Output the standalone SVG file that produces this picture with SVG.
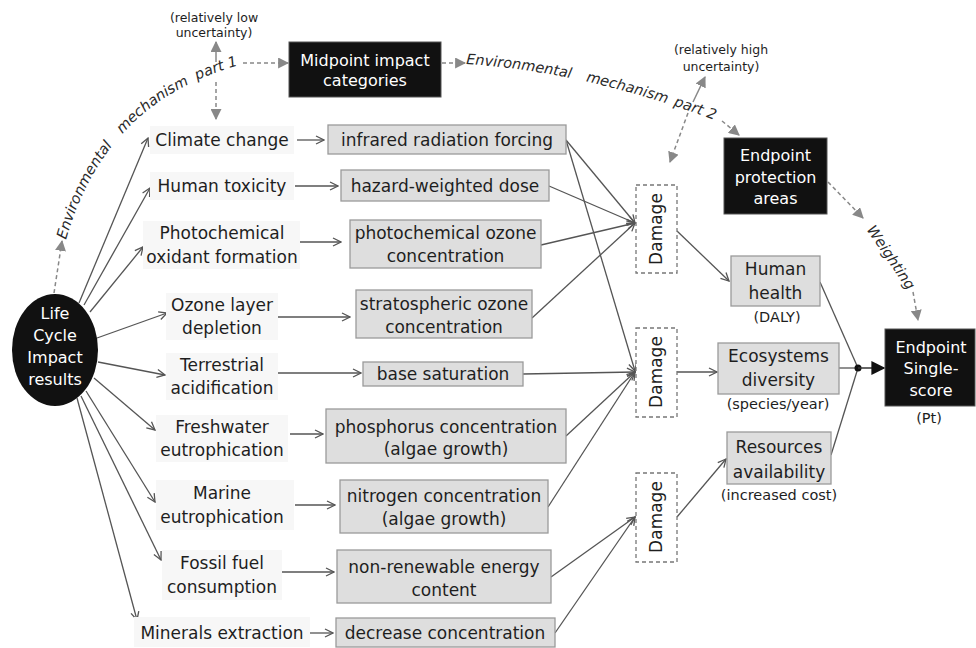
<svg xmlns="http://www.w3.org/2000/svg" width="976" height="648" viewBox="0 0 976 648">
<defs>
<style>
text{font-family:"DejaVu Sans","Liberation Sans",sans-serif;fill:#1e1e1e;}
.t17{font-size:17px;text-anchor:middle;}
.t16w{font-size:16px;text-anchor:middle;fill:#fff;}
.sm{font-size:14.5px;text-anchor:middle;}
.xs{font-size:12.5px;text-anchor:middle;}
.it{font-size:14.5px;font-style:italic;fill:#2a2a2a;}
.gbox{fill:#dedede;stroke:#9a9a9a;stroke-width:1.3;}
.bbox{fill:#111;stroke:#555;stroke-width:1;}
.lbg{fill:#f7f7f7;}
.dbox{fill:#fff;stroke:#777;stroke-width:1.3;stroke-dasharray:4 3;}
.ln{stroke:#555;stroke-width:1.3;fill:none;marker-end:url(#oa);}
.pl{stroke:#555;stroke-width:1.3;fill:none;}
.dl{stroke:#888;stroke-width:1.5;fill:none;stroke-dasharray:4 3;marker-end:url(#ga);}
.sl{stroke:#888;stroke-width:1.5;fill:none;marker-end:url(#ga);}
</style>
<marker id="oa" viewBox="0 0 10 10" refX="9" refY="5" markerWidth="10" markerHeight="10" markerUnits="userSpaceOnUse" orient="auto"><path d="M1,1 L9,5 L1,9" fill="none" stroke="#555" stroke-width="1.3"/></marker>
<marker id="ga" viewBox="0 0 10 10" refX="9" refY="5" markerWidth="11" markerHeight="11" markerUnits="userSpaceOnUse" orient="auto"><path d="M0,0 L10,5 L0,10 z" fill="#888"/></marker>
<marker id="ba" viewBox="0 0 10 10" refX="9" refY="5" markerWidth="14" markerHeight="14" markerUnits="userSpaceOnUse" orient="auto"><path d="M0,0 L10,5 L0,10 z" fill="#111"/></marker>
<path id="arc1" d="M66 240 Q 107 95 252 62"/>
<path id="arc2" d="M466 64 Q 590 72 725 124"/>
</defs>

<!-- connectors -->
<g id="connectors">
<line class="ln" x1="79" y1="303" x2="148" y2="138"/>
<line class="ln" x1="84" y1="305" x2="150" y2="188"/>
<line class="ln" x1="90" y1="312" x2="143" y2="247"/>
<line class="ln" x1="97" y1="338" x2="167" y2="313"/>
<line class="ln" x1="98" y1="362" x2="165" y2="375"/>
<line class="ln" x1="94" y1="378" x2="155" y2="430"/>
<line class="ln" x1="86" y1="391" x2="155" y2="502"/>
<line class="ln" x1="81" y1="396" x2="161" y2="560"/>
<line class="ln" x1="77" y1="398" x2="137" y2="620"/>
<line class="ln" x1="297" y1="140" x2="324" y2="140"/>
<line class="ln" x1="295" y1="186" x2="338" y2="186"/>
<line class="ln" x1="300" y1="242" x2="341" y2="242"/>
<line class="ln" x1="278" y1="317" x2="350" y2="317"/>
<line class="ln" x1="278" y1="373" x2="361" y2="373"/>
<line class="ln" x1="290" y1="434" x2="323" y2="434"/>
<line class="ln" x1="295" y1="505" x2="335" y2="505"/>
<line class="ln" x1="282" y1="572" x2="334" y2="572"/>
<line class="ln" x1="310" y1="633" x2="333" y2="633"/>
<line class="ln" x1="566" y1="140" x2="635" y2="223"/>
<line class="ln" x1="566" y1="140" x2="635" y2="371"/>
<line class="ln" x1="549" y1="186" x2="635" y2="223"/>
<line class="ln" x1="541" y1="245" x2="635" y2="223"/>
<line class="ln" x1="532" y1="318" x2="635" y2="223"/>
<line class="ln" x1="523" y1="374" x2="635" y2="372"/>
<line class="ln" x1="566" y1="436" x2="635" y2="372"/>
<line class="ln" x1="548" y1="507" x2="635" y2="372"/>
<line class="ln" x1="551" y1="577" x2="635" y2="517"/>
<line class="ln" x1="555" y1="633" x2="635" y2="517"/>
<line class="ln" x1="677" y1="231" x2="729" y2="281"/>
<line class="ln" x1="677" y1="372" x2="717" y2="372"/>
<line class="ln" x1="677" y1="517" x2="726" y2="459"/>
<line class="pl" x1="820" y1="282" x2="858" y2="368"/>
<line class="pl" x1="839" y1="368" x2="858" y2="368"/>
<line class="pl" x1="831" y1="455" x2="858" y2="368"/>
<circle cx="858" cy="368" r="3.5" fill="#111"/>
<line x1="858" y1="368" x2="884" y2="368" stroke="#333" stroke-width="1.5" marker-end="url(#ba)"/>
<line class="dl" x1="54" y1="293" x2="62" y2="241"/>
<line class="dl" x1="243" y1="63" x2="288" y2="63"/>
<line class="sl" x1="216" y1="62" x2="216" y2="42"/>
<line class="dl" x1="216" y1="82" x2="216" y2="119"/>
<line class="dl" x1="442" y1="63" x2="465" y2="63"/>
<line class="dl" x1="722" y1="121" x2="739" y2="135"/>
<line class="sl" x1="693" y1="102" x2="705" y2="77"/>
<line class="dl" x1="688" y1="113" x2="670" y2="162"/>
<line class="dl" x1="828" y1="182" x2="863" y2="218"/>
<line class="dl" x1="913" y1="292" x2="918" y2="320"/>
</g>

<!-- mechanism labels -->
<g id="mechanism-1">
<text class="it"><textPath href="#arc1" startOffset="0">Environmental</textPath></text>
<text class="it"><textPath href="#arc1" startOffset="121">mechanism</textPath></text>
<text class="it"><textPath href="#arc1" startOffset="214">part 1</textPath></text>
</g>
<g id="mechanism-2">
<text class="it"><textPath href="#arc2" startOffset="0">Environmental</textPath></text>
<text class="it"><textPath href="#arc2" startOffset="121">mechanism</textPath></text>
<text class="it"><textPath href="#arc2" startOffset="212">part 2</textPath></text>
</g>
<text class="it" font-size="15" transform="translate(887,260) rotate(56)" text-anchor="middle">Weighting</text>
<g id="uncertainty-low">
<text class="xs" x="214" y="22">(relatively low</text>
<text class="xs" x="214" y="37">uncertainty)</text>
</g>
<g id="uncertainty-high">
<text class="xs" x="721" y="54">(relatively high</text>
<text class="xs" x="721" y="71">uncertainty)</text>
</g>

<g id="lcia">
<ellipse cx="55" cy="350" rx="43" ry="56" fill="#111"/>
<text class="t16w" x="55" y="319">Life</text>
<text class="t16w" x="55" y="341">Cycle</text>
<text class="t16w" x="55" y="363">Impact</text>
<text class="t16w" x="55" y="385">results</text>
</g>

<g id="midpoint">
<rect class="bbox" x="289" y="42" width="152" height="55"/>
<text class="t16w" x="365" y="66">Midpoint impact</text>
<text class="t16w" x="365" y="86">categories</text>
</g>
<g id="endpoint-areas">
<rect class="bbox" x="724" y="138" width="103" height="76"/>
<text class="t16w" x="775.5" y="161">Endpoint</text>
<text class="t16w" x="775.5" y="183">protection</text>
<text class="t16w" x="775.5" y="204">areas</text>
</g>
<g id="single-score">
<rect class="bbox" x="885" y="329" width="90" height="77"/>
<text class="t16w" x="931" y="353">Endpoint</text>
<text class="t16w" x="931" y="374">Single-</text>
<text class="t16w" x="931" y="396">score</text>
<text class="sm" x="929" y="423">(Pt)</text>
</g>

<g id="cat-climate"><rect class="lbg" x="150" y="126" width="144" height="28"/><text class="t17" x="222" y="146">Climate change</text></g>
<g id="cat-human"><rect class="lbg" x="150" y="172" width="144" height="28"/><text class="t17" x="222" y="192">Human toxicity</text></g>
<g id="cat-photo"><rect class="lbg" x="143" y="221" width="157" height="48"/><text class="t17" x="222" y="239">Photochemical</text><text class="t17" x="222" y="263">oxidant formation</text></g>
<g id="cat-ozone"><rect class="lbg" x="166" y="293" width="112" height="47"/><text class="t17" x="222" y="311">Ozone layer</text><text class="t17" x="222" y="334">depletion</text></g>
<g id="cat-terr"><rect class="lbg" x="166" y="353" width="112" height="47"/><text class="t17" x="222" y="371">Terrestrial</text><text class="t17" x="222" y="394">acidification</text></g>
<g id="cat-fresh"><rect class="lbg" x="156" y="415" width="132" height="47"/><text class="t17" x="222" y="433">Freshwater</text><text class="t17" x="222" y="456">eutrophication</text></g>
<g id="cat-marine"><rect class="lbg" x="156" y="480" width="138" height="50"/><text class="t17" x="222" y="499">Marine</text><text class="t17" x="222" y="523">eutrophication</text></g>
<g id="cat-fossil"><rect class="lbg" x="162" y="550" width="120" height="50"/><text class="t17" x="222" y="569">Fossil fuel</text><text class="t17" x="222" y="593">consumption</text></g>
<g id="cat-minerals"><rect class="lbg" x="134" y="617" width="176" height="30"/><text class="t17" x="222" y="639">Minerals extraction</text></g>

<g id="mid-infrared"><rect class="gbox" x="328" y="125" width="238" height="29"/><text class="t17" x="447" y="146">infrared radiation forcing</text></g>
<g id="mid-hazard"><rect class="gbox" x="341" y="170" width="208" height="31"/><text class="t17" x="445" y="192">hazard-weighted dose</text></g>
<g id="mid-photo"><rect class="gbox" x="350" y="220" width="191" height="48"/><text class="t17" x="445.5" y="239">photochemical ozone</text><text class="t17" x="445.5" y="262">concentration</text></g>
<g id="mid-strat"><rect class="gbox" x="356" y="290" width="176" height="48"/><text class="t17" x="444" y="310">stratospheric ozone</text><text class="t17" x="444" y="333">concentration</text></g>
<g id="mid-base"><rect class="gbox" x="363" y="362" width="160" height="24"/><text class="t17" x="443" y="380">base saturation</text></g>
<g id="mid-phos"><rect class="gbox" x="326" y="409" width="240" height="54"/><text class="t17" x="446" y="433">phosphorus concentration</text><text class="t17" x="446" y="455">(algae growth)</text></g>
<g id="mid-nitro"><rect class="gbox" x="340" y="480" width="208" height="53"/><text class="t17" x="444" y="502">nitrogen concentration</text><text class="t17" x="444" y="525">(algae growth)</text></g>
<g id="mid-energy"><rect class="gbox" x="337" y="550" width="214" height="53"/><text class="t17" x="444" y="573">non-renewable energy</text><text class="t17" x="444" y="596">content</text></g>
<g id="mid-decrease"><rect class="gbox" x="336" y="618" width="219" height="29"/><text class="t17" x="445" y="639">decrease concentration</text></g>

<g id="damage-1"><rect class="dbox" x="636" y="185" width="41" height="88"/><text class="t17" font-size="16" transform="translate(662,229) rotate(-90)">Damage</text></g>
<g id="damage-2"><rect class="dbox" x="636" y="328" width="41" height="89"/><text class="t17" font-size="16" transform="translate(662,372) rotate(-90)">Damage</text></g>
<g id="damage-3"><rect class="dbox" x="636" y="473" width="41" height="89"/><text class="t17" font-size="16" transform="translate(662,517) rotate(-90)">Damage</text></g>

<g id="human-health"><rect class="gbox" x="731" y="256" width="89" height="50"/><text class="t17" x="775.5" y="275">Human</text><text class="t17" x="775.5" y="299">health</text><text class="sm" x="777" y="322">(DALY)</text></g>
<g id="ecosystems"><rect class="gbox" x="718" y="343" width="121" height="51"/><text class="t17" x="778.5" y="362">Ecosystems</text><text class="t17" x="778.5" y="386">diversity</text><text class="sm" x="778" y="409">(species/year)</text></g>
<g id="resources"><rect class="gbox" x="727" y="432" width="104" height="52"/><text class="t17" x="779" y="453">Resources</text><text class="t17" x="779" y="478">availability</text><text class="sm" x="779" y="500">(increased cost)</text></g>
</svg>
